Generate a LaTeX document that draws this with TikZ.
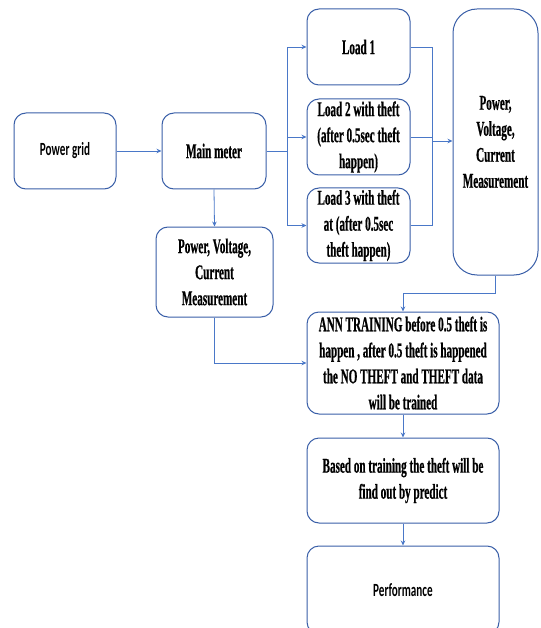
\documentclass[tikz,border=0pt]{standalone}
\usepackage{fontspec}
\usetikzlibrary{arrows.meta}
\newfontfamily\tnrnarrow[FakeStretch=0.53, FakeBold=0.6]{Liberation Serif Bold}
\newfontfamily\calnarrow[FakeStretch=0.6]{Carlito Bold}
\definecolor{boxblue}{HTML}{3A5FA8}
\definecolor{linkblue}{HTML}{4A78C8}
\tikzset{
  box/.style={draw=boxblue, line width=1pt, rounded corners=12pt, fill=white,
    align=center, inner sep=0pt, font=\tnrnarrow\fontsize{21}{26}\selectfont},
  sbox/.style={box, font=\calnarrow\fontsize{18.6}{24}\selectfont},
  link/.style={draw=linkblue, line width=0.8pt},
  arr/.style={link, -{Stealth[length=5pt,width=4.5pt]}}
}
\begin{document}
\begin{tikzpicture}[x=1pt,y=-1pt]
\useasboundingbox (0,0) rectangle (540,628);
\clip (0,0) rectangle (540,628);
\fill[white] (0,0) rectangle (540,628);
% nodes
\node[sbox, minimum width=102pt, minimum height=76pt] (pg) at (65,151) {Power grid};
\node[box, minimum width=104pt, minimum height=76pt] (mm) at (214,151) {Main meter};
\node[box, minimum width=103pt, minimum height=76pt] (l1) at (358.5,47) {Load 1};
\node[box, minimum width=103pt, minimum height=76pt] (l2) at (358.5,137) {Load 2 with theft\\(after 0.5sec theft\\happen)};
\node[box, minimum width=103pt, minimum height=75pt] (l3) at (358.5,225.5) {Load 3 with theft\\at (after 0.5sec\\theft happen)};
\node[box, rounded corners=24pt, minimum width=85pt, minimum height=266pt] (rm) at (495.5,142) {Power,\\Voltage,\\Current\\Measurement};
\node[box, minimum width=117pt, minimum height=90pt] (lm) at (214.5,272) {Power, Voltage,\\Current\\Measurement};
\node[box, minimum width=192pt, minimum height=102pt] (ann) at (403,363) {ANN TRAINING before 0.5 theft is\\happen , after 0.5 theft is happened\\the NO THEFT and THEFT data\\will be trained};
\node[box, minimum width=192pt, minimum height=85pt] (bt) at (403,480.5) {Based on training the theft will be\\find out by predict};
\node[sbox, minimum width=192pt, minimum height=88pt] (pf) at (403,590) {Performance};
% connectors
\coordinate (sp) at (287,151);
\coordinate (jn) at (432,141);
\draw[arr] (pg.east) -- (mm.west);
\draw[link] (mm.east) -- (sp);
\draw[arr] (sp) |- (l1.west);
\draw[arr] (sp) |- (l2.west);
\draw[arr] (sp) |- (l3.west);
\draw[link] (l1.east) -| (jn);
\draw[link] (l3.east) -| (jn);
\draw[link] (l2.east) -| (jn);
\draw[arr] (jn) -- (rm.west |- jn);
\draw[arr] (rm.south) -- ++(0,18) -| (ann.north);
\draw[arr] (mm.south) -- (lm.north);
\draw[arr] (lm.south) |- (ann.west);
\draw[arr] (ann.south) -- (bt.north);
\draw[arr] (bt.south) -- (pf.north);
\end{tikzpicture}
\end{document}
